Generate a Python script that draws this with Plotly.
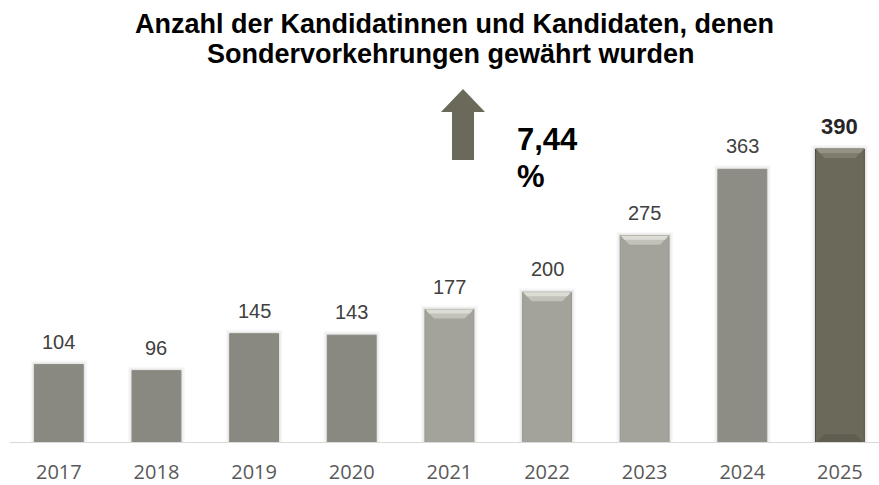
import plotly.graph_objects as go

years = ["2017", "2018", "2019", "2020", "2021", "2022", "2023", "2024", "2025"]
values = [104, 96, 145, 143, 177, 200, 275, 363, 390]
bar_colors = ["#8a8981", "#8a8981", "#8a8981", "#8a8981",
              "#a3a29b", "#a3a29b", "#a3a29b", "#8d8c85", "#6b6a5a"]
line_colors = ["#8a8981"] * 4 + ["#9a998f"] * 3 + ["#8d8c85", "#4f4e40"]
bevel = [False, False, False, False, True, True, True, False, True]
bevel_colors = {4: ("#dcdbd4", "#c2c1ba"), 5: ("#dcdbd4", "#c2c1ba"),
                6: ("#dcdbd4", "#c2c1ba"), 8: ("#939283", "#7f7e6e")}
growth_lines = ["7,44", "%"]
title_lines = ["Anzahl der Kandidatinnen und Kandidaten, denen",
               "Sondervorkehrungen gewährt wurden"]

W, H = 879, 485
L, R, T, B = 10, 0, 100, 42
PW, PH = W - L - R, H - T - B
XR = (-0.5, 8.4)
YR = (0, 455)
UX = PW / (XR[1] - XR[0])   # px per category unit
UY = PH / (YR[1] - YR[0])   # px per value unit


def pxx(x):
    return (x - L) / PW


def pxy(y):
    return (H - B - y) / PH


BAR_W = 0.5
fig = go.Figure()
fig.add_trace(go.Bar(
    x=list(range(len(years))), y=values, width=BAR_W,
    marker=dict(color=bar_colors, line=dict(color=line_colors, width=1)),
    hoverinfo="skip", showlegend=False,
))

shapes = []
hw = BAR_W / 2
# soft shadows around bars
for i, v in enumerate(values):
    for pad, alpha in [(4, 0.035), (2.5, 0.05), (1.2, 0.07)]:
        shapes.append(dict(type="rect", xref="x", yref="y", layer="below",
                           x0=i - hw - pad / UX, x1=i + hw + pad / UX,
                           y0=0, y1=v + pad / UY,
                           fillcolor=f"rgba(60,60,50,{alpha})", line=dict(width=0)))

# bevel highlights at top of some bars
for i, (v, b) in enumerate(zip(values, bevel)):
    if not b:
        continue
    c_out, c_in = bevel_colors[i]
    ix, iy = 9 / UX, 9 / UY
    for frac, c in [(1.0, c_in), (0.45, c_out)]:
        path = (f"M {i-hw+0.006},{v} L {i+hw-0.006},{v} "
                f"L {i+hw-ix*frac},{v-iy*frac} L {i-hw+ix*frac},{v-iy*frac} Z")
        shapes.append(dict(type="path", xref="x", yref="y", path=path,
                           fillcolor=c, line=dict(width=0), layer="above"))
    if i == 8:
        path2 = (f"M {i-hw+0.006},0.5 L {i+hw-0.006},0.5 L {i+hw-ix},{iy} "
                 f"L {i-hw+ix},{iy} Z")
        shapes.append(dict(type="path", xref="x", yref="y", path=path2,
                           fillcolor="#5f5e50", line=dict(width=0), layer="above"))

# baseline
shapes.append(dict(type="line", xref="paper", yref="y", x0=0, x1=1, y0=0, y1=0,
                   line=dict(color="#d9d9d9", width=2)))

# up arrow (decorative)
pts = [(452, 160), (474, 160), (474, 112), (485, 112), (463, 89), (441, 112), (452, 112)]
arrow = "M " + " L ".join(f"{pxx(x):.5f},{pxy(y):.5f}" for x, y in pts) + " Z"
shapes.append(dict(type="path", xref="paper", yref="paper", path=arrow,
                   fillcolor="#6b6a5a", line=dict(width=0)))

annotations = []
for i, v in enumerate(values):
    last = i == len(values) - 1
    annotations.append(dict(
        x=i, y=v, xref="x", yref="y", text=f"<b>{v}</b>" if last else str(v),
        showarrow=False, yanchor="middle", yshift=23,
        font=dict(family="Liberation Sans, Arial", size=22 if last else 20,
                  color="#262626" if last else "#404040"),
    ))

# growth text
for txt, yc in zip(growth_lines, [139, 176]):
    annotations.append(dict(
        x=pxx(515), y=pxy(yc), xref="paper", yref="paper", text=f"<b>{txt}</b>",
        showarrow=False, xanchor="left", yanchor="middle",
        font=dict(family="Liberation Sans, Arial", size=31, color="#000000"),
    ))

# title lines
for txt, xc, yc in zip(title_lines, [454, 451], [24, 54]):
    annotations.append(dict(
        x=pxx(xc), y=pxy(yc), xref="paper", yref="paper", text=f"<b>{txt}</b>",
        showarrow=False, xanchor="center", yanchor="middle",
        font=dict(family="Liberation Sans, Arial", size=27, color="#000000"),
    ))

fig.update_layout(
    width=W, height=H,
    margin=dict(l=L, r=R, t=T, b=B, autoexpand=False),
    paper_bgcolor="white", plot_bgcolor="white",
    xaxis=dict(range=list(XR), tickmode="array", tickvals=list(range(len(years))),
               ticktext=years, showgrid=False, zeroline=False, showline=False,
               tickfont=dict(family="Open Sans", size=20, color="#595959"), ticks="",
               ticklabelstandoff=15, automargin=False),
    yaxis=dict(range=list(YR), visible=False, automargin=False),
    shapes=shapes, annotations=annotations,
)

fig.write_html("out.html")
